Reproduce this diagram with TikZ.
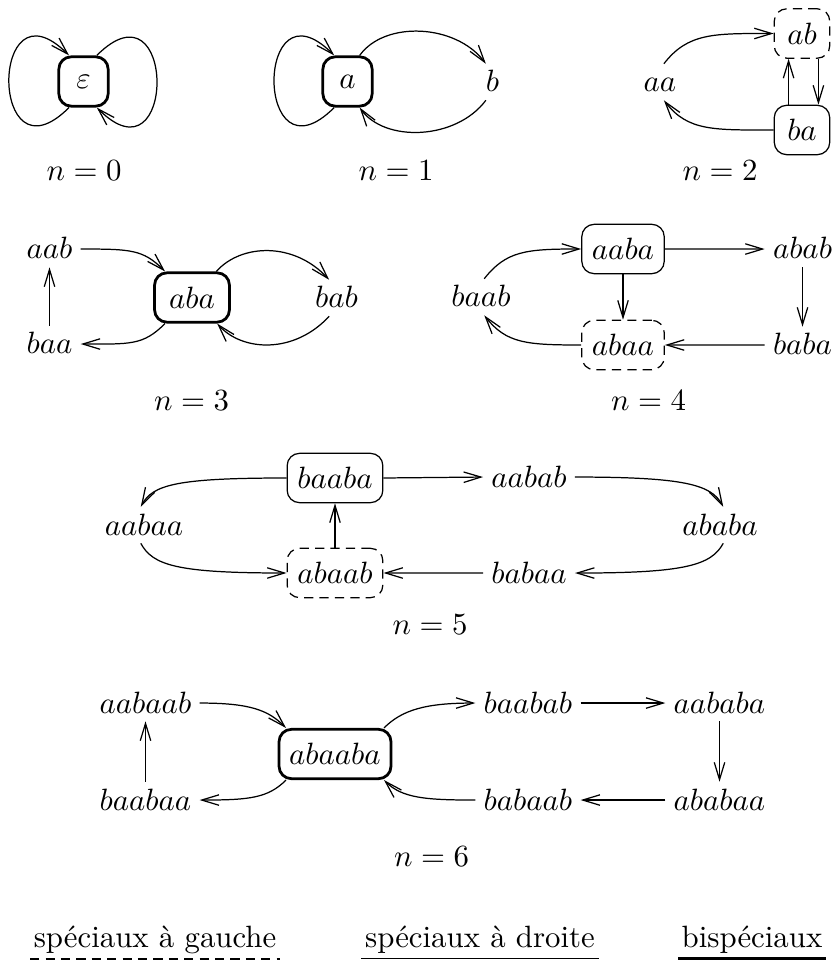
\documentclass[tikz,border=0pt]{standalone}
\usetikzlibrary{arrows.meta}

\tikzset{
  box/.style={rounded corners=4pt, minimum height=16pt, minimum width=16pt, inner xsep=3.3pt},
  bisp/.style={box, draw, line width=0.9pt},
  droite/.style={box, draw},
  gauche/.style={box, draw, dash pattern=on 3pt off 2pt},
  word/.style={anchor=base, inner sep=2.5pt, text height=1.5ex, text depth=0pt},
  caption/.style={anchor=base},
  legend/.style={anchor=base, inner xsep=1pt, inner ysep=1.6pt},
}

\begin{document}
\begin{tikzpicture}[x=0.3245pt, y=0.3245pt, >={Straight Barb[length=5.6pt,width=3.4pt]}]
\useasboundingbox (0,0) rectangle (831,-961);
\clip (0,0) rectangle (831,-961);

\node[bisp] (eps) at (83.5,-81.5) {$\varepsilon$};
\draw[->] (eps.241) .. controls +(-80,-80) and +(-80,80) .. (eps.119);
\draw[->] (eps.63) .. controls +(80,80) and +(80,-80) .. (eps.297);
\node[caption] (n0) at (84,-181) {$n=0$};

\node[bisp] (a) at (347.5,-81.5) {$a$};
\node[word] (b) at (492.5,-92) {$b$};
\draw[->] (a.243) .. controls +(-80,-80) and +(-80,80) .. (a.117);
\draw[->] (a.65) .. controls +(25,35) and +(-30,40) .. (b.110);
\draw[->] (b.250) .. controls +(-30,-40) and +(25,-35) .. (a.295);
\node[caption] (n1) at (396,-181) {$n=1$};

\node[gauche, minimum width=18pt] (ab) at (802,-33.5) {$ab$};
\node[droite, minimum width=18pt] (ba) at (802,-130) {$ba$};
\node[word] (aa) at (660,-92) {$aa$};
\draw[->] (aa.78) .. controls +(24,31) and +(-60,0) .. (ab.west);
\draw[->] (ab.303) -- (ba.57);
\draw[->] (ba.118) -- (ab.242);
\draw[->] (ba.west) .. controls +(-60,0) and +(24,-31) .. (aa.282);
\node[caption] (n2) at (720,-181) {$n=2$};

\node[word] (aab) at (49.5,-259) {$aab$};
\node[word] (baa) at (49.5,-354) {$baa$};
\node[bisp, minimum width=24.3pt] (aba) at (192,-297.5) {$aba$};
\node[word] (bab) at (336.5,-308) {$bab$};
\draw[->] (aab.east) .. controls +(50,0) and +(-22,22) .. (aba.136);
\draw[->] (baa.north) -- (aab.south);
\draw[->] (aba.224) .. controls +(-22,-22) and +(50,0) .. (baa.east);
\draw[->] (aba.47) .. controls +(25,28) and +(-35,38) .. (bab.112);
\draw[->] (bab.248) .. controls +(-35,-38) and +(25,-28) .. (aba.314);
\node[caption] (n3) at (191.5,-411) {$n=3$};

\node[droite] (aaba) at (623,-249) {$aaba$};
\node[gauche] (abaa) at (623,-345) {$abaa$};
\node[word] (baab) at (481,-307) {$baab$};
\node[word] (abab) at (802.5,-259) {$abab$};
\node[word] (baba) at (802.5,-355) {$baba$};
\draw[->] (baab.80) .. controls +(22,28) and +(-55,0) .. (aaba.west);
\draw[->] (aaba.east) -- (abab.west);
\draw[->] (aaba.south) -- (abaa.north);
\draw[->] (abab.south) -- (baba.north);
\draw[->] (baba.west) -- (abaa.east);
\draw[->] (abaa.west) .. controls +(-55,0) and +(22,-28) .. (baab.280);
\node[caption] (n4) at (648.5,-411) {$n=4$};

\node[droite] (baaba) at (335,-478) {$baaba$};
\node[gauche] (abaab) at (335,-573) {$abaab$};
\node[word] (aabab) at (529,-487) {$aabab$};
\node[word] (babaa) at (529,-583) {$babaa$};
\node[word] (aabaa) at (144,-535) {$aabaa$};
\node[word] (ababa) at (720,-535) {$ababa$};
\draw[->] (baaba.west) .. controls +(-110,0) and +(12,22) .. (aabaa.100);
\draw[->] (baaba.east) -- (aabab.west);
\draw[->] (aabab.east) .. controls +(110,0) and +(-12,22) .. (ababa.80);
\draw[->] (ababa.280) .. controls +(-12,-22) and +(110,0) .. (babaa.east);
\draw[->] (babaa.west) -- (abaab.east);
\draw[->] (aabaa.260) .. controls +(12,-22) and +(-110,0) .. (abaab.west);
\draw[->] (abaab.north) -- (baaba.south);
\node[caption] (n5) at (430,-634) {$n=5$};

\node[word] (aabaab) at (145.5,-713) {$aabaab$};
\node[word] (baabaa) at (145.5,-810) {$baabaa$};
\node[bisp] (abaaba) at (335,-754) {$abaaba$};
\node[word] (baabab) at (528,-713) {$baabab$};
\node[word] (aababa) at (719.5,-713) {$aababa$};
\node[word] (ababaa) at (719.5,-810) {$ababaa$};
\node[word] (babaab) at (528,-810) {$babaab$};
\draw[->] (aabaab.east) .. controls +(50,0) and +(-18,18) .. (abaaba.152);
\draw[->] (baabaa.north) -- (aabaab.south);
\draw[->] (abaaba.208) .. controls +(-18,-18) and +(50,0) .. (baabaa.east);
\draw[->] (abaaba.28) .. controls +(18,18) and +(-50,0) .. (baabab.west);
\draw[->] (baabab.east) -- (aababa.west);
\draw[->] (aababa.south) -- (ababaa.north);
\draw[->] (ababaa.west) -- (babaab.east);
\draw[->] (babaab.west) .. controls +(-50,0) and +(18,-18) .. (abaaba.332);
\node[caption] (n6) at (431.5,-866) {$n=6$};

\node[legend] (lgauche) at (155,-947) {spéciaux à gauche};
\node[legend] (ldroite) at (480,-947) {spéciaux à droite};
\node[legend] (lbisp) at (752,-947) {bispéciaux};
\draw[dash pattern=on 3pt off 2pt] (lgauche.south west) -- (lgauche.south east);
\draw (ldroite.south west) -- (ldroite.south east);
\draw[line width=0.9pt] (lbisp.south west) -- (lbisp.south east);
\end{tikzpicture}
\end{document}
